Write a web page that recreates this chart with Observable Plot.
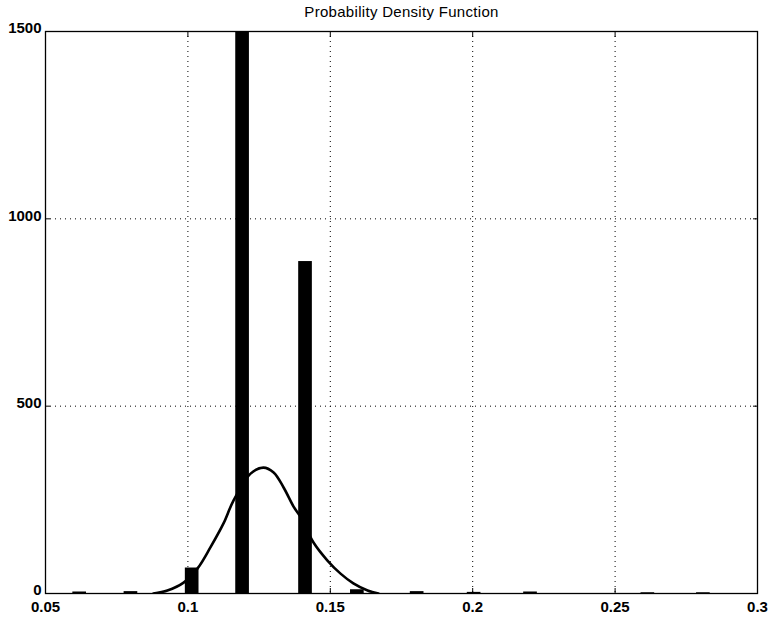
<!DOCTYPE html>
<html><head><meta charset="utf-8">
<script src="https://cdn.jsdelivr.net/npm/d3@7"></script>
<script src="https://cdn.jsdelivr.net/npm/@observablehq/plot@0.6"></script>
<style>body{margin:0;background:#fff}</style>
</head><body><div id="chart"></div>
<script>
const title = "Probability Density Function";
const binCenters = [0.062, 0.080, 0.1015, 0.1192, 0.1413, 0.1595, 0.1805, 0.2005, 0.2203, 0.2615, 0.2810];
const binCounts  = [4, 5, 68, 1650, 886, 10, 5, 3, 4, 2, 2];
const curveX = [0.0879, 0.0928, 0.0985, 0.1034, 0.1079, 0.1125, 0.1160, 0.1220, 0.1265, 0.1301, 0.1336, 0.1371, 0.1395, 0.1441, 0.1490, 0.1536, 0.1581, 0.1631, 0.1669];
const curveY = [0, 8, 29, 67, 123, 187, 248, 320, 336, 323, 283, 232, 205, 136, 88, 53, 27, 8, 0];
const xTicks = [0.05, 0.1, 0.15, 0.2, 0.25, 0.3];
const xTickLabels = ["0.05", "0.1", "0.15", "0.2", "0.25", "0.3"];
const yTicks = [0, 500, 1000, 1500];
const yTickLabels = ["0", "500", "1000", "1500"];

const barWidth = 0.0048;
const bars = binCenters.map((c, i) => ({c, n: binCounts[i]}));
const curve = curveX.map((x, i) => ({x, y: curveY[i]}));
const xLab = new Map(xTicks.map((t, i) => [t, xTickLabels[i]]));
const yLab = new Map(yTicks.map((t, i) => [t, yTickLabels[i]]));

const chart = Plot.plot({
  width: 770, height: 620,
  marginLeft: 45, marginRight: 13, marginTop: 31, marginBottom: 27,
  style: {fontFamily: "'Liberation Sans', Arial, Helvetica, sans-serif", fontSize: "15px", color: "#000", background: "#fff"},
  x: {domain: [0.05, 0.3]},
  y: {domain: [0, 1500]},
  marks: [
    Plot.gridX(xTicks.slice(1, -1), {stroke: "#000", strokeOpacity: 1, strokeDasharray: "1,4"}),
    Plot.gridY(yTicks.slice(1, -1), {stroke: "#000", strokeOpacity: 1, strokeDasharray: "1,4"}),
    Plot.rectY(bars, {x1: d => d.c - barWidth / 2, x2: d => d.c + barWidth / 2, y1: 0, y2: "n", fill: "#000", clip: true}),
    Plot.line(curve, {x: "x", y: "y", curve: "catmull-rom", stroke: "#000", strokeWidth: 2.6, clip: true}),
    Plot.frame({stroke: "#000", strokeWidth: 1.3}),
    Plot.axisX(xTicks, {anchor: "bottom", label: null, tickSize: -5, tickPadding: 13, tickFormat: d => xLab.get(d), fontWeight: "bold", fontSize: 15}),
    Plot.axisX(xTicks, {anchor: "top", label: null, tickSize: -5, tickFormat: () => ""}),
    Plot.axisY(yTicks, {anchor: "left", label: null, tickSize: -5, tickFormat: () => ""}),
    Plot.axisY(yTicks, {anchor: "left", label: null, tickSize: 0, tickPadding: 4, dy: -3, tickFormat: d => yLab.get(d), fontWeight: "bold", fontSize: 15}),
    Plot.axisY(yTicks, {anchor: "right", label: null, tickSize: -5, tickFormat: () => ""}),
    Plot.text([title], {frameAnchor: "top", lineAnchor: "middle", dy: -19, fontSize: 15, fill: "#000"})
  ]
});
chart.querySelectorAll("text").forEach(t => { if (t.textContent === title) t.setAttribute("letter-spacing", "0.3"); });
document.getElementById("chart").appendChild(chart);
</script>
</body></html>
